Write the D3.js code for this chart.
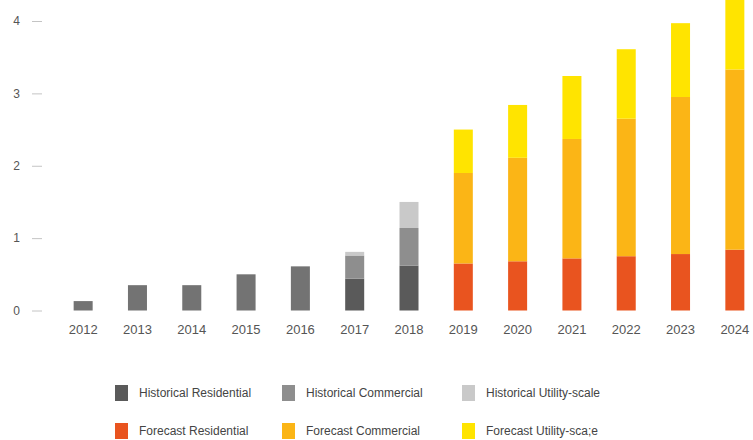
<!DOCTYPE html>
<html>
<head>
<meta charset="utf-8">
<script src="https://cdn.jsdelivr.net/npm/d3@7"></script>
<style>
  body { margin: 0; background: #fff; }
  svg { display: block; font-family: "Liberation Sans", Arial, sans-serif; }
</style>
</head>
<body>
<svg id="chart" width="753" height="440"></svg>
<script>
const years = ["2012","2013","2014","2015","2016","2017","2018","2019","2020","2021","2022","2023","2024"];

// GW per segment
const histTotal       = [0.13, 0.35, 0.35, 0.50, 0.61, 0, 0, 0, 0, 0, 0, 0, 0];
const histResidential = [0, 0, 0, 0, 0, 0.44, 0.62, 0, 0, 0, 0, 0, 0];
const histCommercial  = [0, 0, 0, 0, 0, 0.32, 0.52, 0, 0, 0, 0, 0, 0];
const histUtility     = [0, 0, 0, 0, 0, 0.05, 0.36, 0, 0, 0, 0, 0, 0];
const fcResidential   = [0, 0, 0, 0, 0, 0, 0, 0.65, 0.68, 0.72, 0.75, 0.78, 0.84];
const fcCommercial    = [0, 0, 0, 0, 0, 0, 0, 1.25, 1.43, 1.65, 1.90, 2.17, 2.49];
const fcUtility       = [0, 0, 0, 0, 0, 0, 0, 0.60, 0.73, 0.87, 0.96, 1.02, 0.97];

const yTicks = [0, 1, 2, 3, 4];

const series = [
  { key: "histTotal", values: histTotal, color: "#737373" },
  { key: "Historical Residential", values: histResidential, color: "#5a5a5a" },
  { key: "Historical Commercial", values: histCommercial, color: "#8e8e8e" },
  { key: "Historical Utility-scale", values: histUtility, color: "#c9c9c9" },
  { key: "Forecast Residential", values: fcResidential, color: "#e9541f" },
  { key: "Forecast Commercial", values: fcCommercial, color: "#fbb516" },
  { key: "Forecast Utility-sca;e", values: fcUtility, color: "#ffe400" }
];

const legendItems = series.slice(1);

const svg = d3.select("#chart");

const x = d3.scaleBand()
  .domain(years)
  .range([56, 762])
  .paddingInner(0.65)
  .paddingOuter(0.325);

const y = d3.scaleLinear()
  .domain([0, 4])
  .range([310.5, 21]);

// stack
const table = years.map((yr, i) => {
  const row = { year: yr };
  series.forEach(s => { row[s.key] = s.values[i]; });
  return row;
});
const stacked = d3.stack().keys(series.map(s => s.key))(table);

// y axis
const yAxis = svg.append("g")
  .attr("transform", "translate(42,0)")
  .call(d3.axisLeft(y).tickValues(yTicks).tickSize(10).tickPadding(12).tickFormat(d3.format("d")));
yAxis.select(".domain").remove();
yAxis.attr("font-family", null);
yAxis.selectAll(".tick line").attr("stroke", "#c4c4c4");
yAxis.selectAll(".tick text").attr("fill", "#555").style("font-size", "12px");

// bars
stacked.forEach((layer, li) => {
  svg.append("g")
    .attr("fill", series[li].color)
    .selectAll("rect")
    .data(layer.filter(d => d[1] - d[0] > 0))
    .join("rect")
    .attr("x", d => x(d.data.year))
    .attr("width", x.bandwidth())
    .attr("y", d => y(d[1]))
    .attr("height", d => y(d[0]) - y(d[1]));
});

// x labels
const xAxis = svg.append("g")
  .attr("transform", "translate(0,314)")
  .call(d3.axisBottom(x).tickSize(0).tickPadding(11));
xAxis.select(".domain").remove();
xAxis.attr("font-family", null);
xAxis.selectAll(".tick text").attr("fill", "#555").style("font-size", "13px");

// legend
const colX = [115, 282, 462];
const rowY = [385, 423];
const legend = svg.append("g")
  .selectAll("g")
  .data(legendItems)
  .join("g")
  .attr("transform", (d, i) => `translate(${colX[i % 3]},${rowY[Math.floor(i / 3)]})`);

legend.append("rect")
  .attr("width", 13)
  .attr("height", 16)
  .attr("fill", d => d.color);

legend.append("text")
  .attr("x", 24)
  .attr("y", 8)
  .attr("dy", "0.35em")
  .attr("fill", "#444")
  .style("font-size", "12px")
  .text(d => d.key);
</script>
</body>
</html>
